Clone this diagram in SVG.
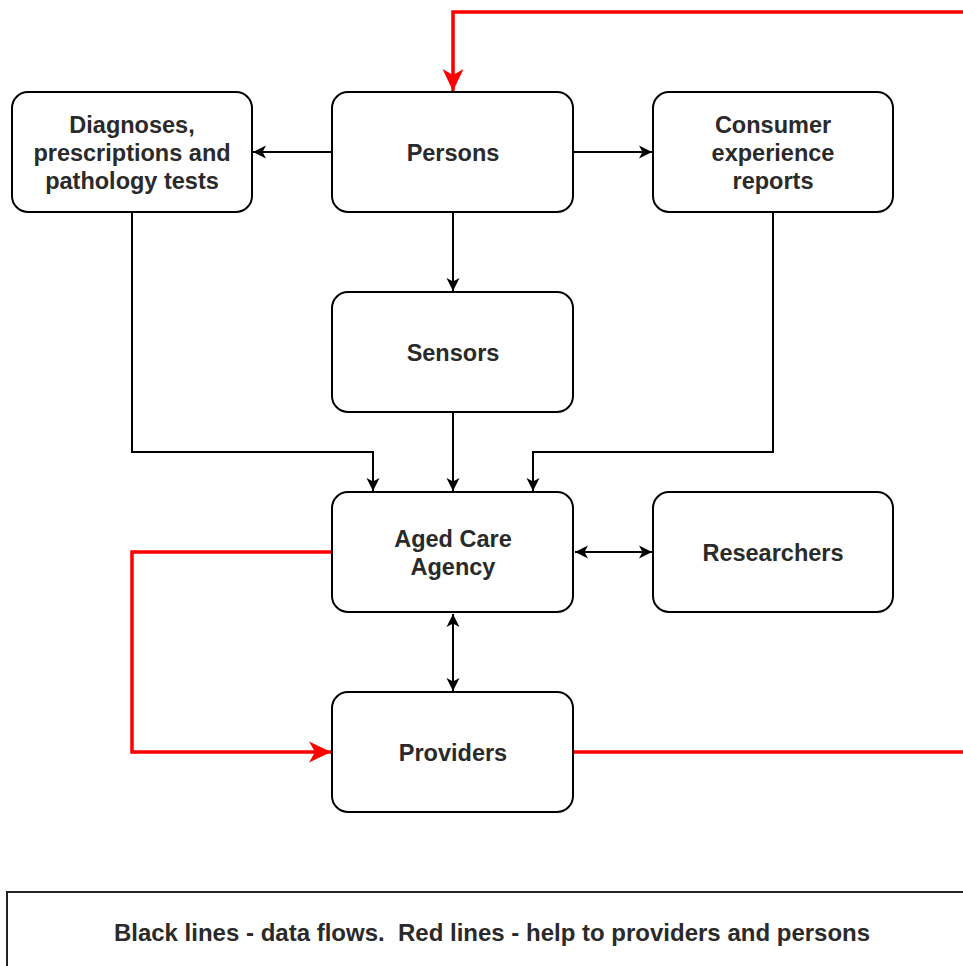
<svg xmlns="http://www.w3.org/2000/svg" width="963" height="966" viewBox="0 0 963 966">
<defs>
<style>
.box{fill:#fff;stroke:#000;stroke-width:2}
.lbl{font-family:"Liberation Sans",Arial,sans-serif;font-size:23.5px;font-weight:bold;fill:#2a2a2a;text-anchor:middle}
.leg{font-family:"Liberation Sans",Arial,sans-serif;font-size:24px;font-weight:bold;fill:#2a2a2a;text-anchor:middle;white-space:pre}
.blk{fill:none;stroke:#000;stroke-width:2}
.red{fill:none;stroke:#ff0000;stroke-width:3.5}
</style>
<marker id="ab" viewBox="0 0 15 15" markerWidth="15" markerHeight="15" refX="14" refY="7.5" orient="auto-start-reverse" markerUnits="userSpaceOnUse">
<path d="M1,1 L14,7.5 L1,14 L4.5,7.5 z" fill="#000"/>
</marker>
<marker id="ar" viewBox="0 0 24 24" markerWidth="24" markerHeight="24" refX="23" refY="12" orient="auto" markerUnits="userSpaceOnUse">
<path d="M1,1.5 L23,12 L1,22.5 L7,12 z" fill="#ff0000"/>
</marker>
</defs>
<rect width="963" height="966" fill="#fff"/>

<g id="connectors">
<path class="blk" d="M332,152 H253" marker-end="url(#ab)"/>
<path class="blk" d="M573,152 H652" marker-end="url(#ab)"/>
<path class="blk" d="M453,212 V291" marker-end="url(#ab)"/>
<path class="blk" d="M132,212 V452 H373 V491" marker-end="url(#ab)"/>
<path class="blk" d="M453,412 V491" marker-end="url(#ab)"/>
<path class="blk" d="M773,212 V452 H533 V491" marker-end="url(#ab)"/>
<path class="blk" d="M575,552 H652" marker-start="url(#ab)" marker-end="url(#ab)"/>
<path class="blk" d="M453,614 V691" marker-start="url(#ab)" marker-end="url(#ab)"/>
<path class="red" d="M332,552 H132 V752 H331" marker-end="url(#ar)"/>
<path class="red" d="M573,752 H975"/>
<path class="red" d="M975,12 H453 V91" marker-end="url(#ar)"/>
</g>

<g id="diagnoses">
<rect class="box" x="12" y="92" width="240" height="120" rx="16"/>
<text class="lbl" x="132" y="133">Diagnoses,</text>
<text class="lbl" x="132" y="161">prescriptions and</text>
<text class="lbl" x="132" y="189">pathology tests</text>
</g>
<g id="persons">
<rect class="box" x="332" y="92" width="241" height="120" rx="16"/>
<text class="lbl" x="453" y="161">Persons</text>
</g>
<g id="consumer">
<rect class="box" x="653" y="92" width="240" height="120" rx="16"/>
<text class="lbl" x="773" y="133">Consumer</text>
<text class="lbl" x="773" y="161">experience</text>
<text class="lbl" x="773" y="189">reports</text>
</g>
<g id="sensors">
<rect class="box" x="332" y="292" width="241" height="120" rx="16"/>
<text class="lbl" x="453" y="361">Sensors</text>
</g>
<g id="agency">
<rect class="box" x="332" y="492" width="241" height="120" rx="16"/>
<text class="lbl" x="453" y="547">Aged Care</text>
<text class="lbl" x="453" y="575">Agency</text>
</g>
<g id="researchers">
<rect class="box" x="653" y="492" width="240" height="120" rx="16"/>
<text class="lbl" x="773" y="561">Researchers</text>
</g>
<g id="providers">
<rect class="box" x="332" y="692" width="241" height="120" rx="16"/>
<text class="lbl" x="453" y="761">Providers</text>
</g>
<g id="legend">
<rect x="7" y="892" width="980" height="100" fill="#fff" stroke="#222" stroke-width="2"/>
<text class="leg" x="492" y="941" xml:space="preserve">Black lines - data flows.  Red lines - help to providers and persons</text>
</g>
</svg>
